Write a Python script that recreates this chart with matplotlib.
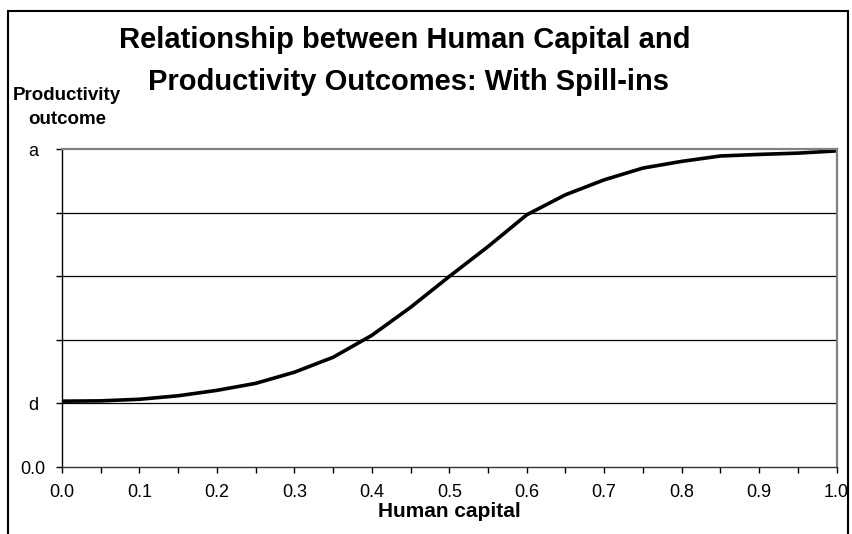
import numpy as np
import matplotlib.pyplot as plt
from matplotlib.patches import Rectangle

plt.rcParams['font.family'] = ['Liberation Sans', 'DejaVu Sans']

# human capital (x) and productivity outcome (y, scaled so a = 1.0)
humanCapital = [0.0, 0.05, 0.1, 0.15, 0.2, 0.25, 0.3, 0.35, 0.4, 0.45, 0.5,
                0.55, 0.6, 0.65, 0.7, 0.75, 0.8, 0.85, 0.9, 0.95, 1.0]
outcome = [0.207, 0.208, 0.213, 0.224, 0.241, 0.263, 0.298, 0.345, 0.414, 0.502, 0.599,
           0.693, 0.793, 0.856, 0.903, 0.940, 0.961, 0.978, 0.983, 0.987, 0.994]

yTicks = [0.0, 0.2, 0.4, 0.6, 0.8, 1.0]
yTickLabels = ['0.0', 'd', '', '', '', 'a']
xTicks = [0.0, 0.1, 0.2, 0.3, 0.4, 0.5, 0.6, 0.7, 0.8, 0.9, 1.0]
xTickLabels = ['0.0', '0.1', '0.2', '0.3', '0.4', '0.5', '0.6', '0.7', '0.8', '0.9', '1.0']

fig = plt.figure(figsize=(8.52, 5.34), dpi=100)
ax = fig.add_axes([62/852, 1-467/534, (836.5-62)/852, (467-149)/534])

# outer chart frame
fig.patches.append(Rectangle((8/852, -0.05), (848-8)/852, 1.05 - 11/534,
                             transform=fig.transFigure, fill=False,
                             edgecolor='black', linewidth=1.5))

ax.plot(humanCapital, outcome, color='black', linewidth=2.6, solid_joinstyle='miter')

ax.set_xlim(0, 1)
ax.set_ylim(0, 1)

# gridlines
for y in yTicks[1:-1]:
    ax.axhline(y, color='black', linewidth=0.9, zorder=0)

ax.set_xticks(xTicks)
ax.set_xticklabels(xTickLabels)
ax.set_xticks(np.arange(0.05, 1.0, 0.1), minor=True)
ax.set_yticks(yTicks)
ax.set_yticklabels(yTickLabels)

ax.tick_params(axis='both', which='both', direction='out', length=4, width=1,
               labelsize=13, colors='black')
ax.tick_params(axis='x', pad=8)
ax.tick_params(axis='y', pad=17)
for lab in ax.get_yticklabels():
    lab.set_horizontalalignment('center')

for side in ['top', 'right']:
    ax.spines[side].set_color('#808080')
    ax.spines[side].set_linewidth(1.6)
ax.spines['left'].set_linewidth(1.0)
ax.spines['bottom'].set_linewidth(1.0)
ax.spines['bottom'].set_color('#333333')

ax.set_xlabel('Human capital', fontsize=15, fontweight='bold', labelpad=1)

fig.text(405/852, 1-40/534, 'Relationship between Human Capital and',
         ha='center', va='center', fontsize=21, fontweight='bold')
fig.text(408/852, 1-82/534, 'Productivity Outcomes: With Spill-ins',
         ha='center', va='center', fontsize=21, fontweight='bold')
fig.text(67/852, 1-96/534, 'Productivity', ha='center', va='center',
         fontsize=13.5, fontweight='bold')
fig.text(67/852, 1-119/534, 'outcome', ha='center', va='center',
         fontsize=13.5, fontweight='bold')

fig.savefig('out.png', dpi=100)
